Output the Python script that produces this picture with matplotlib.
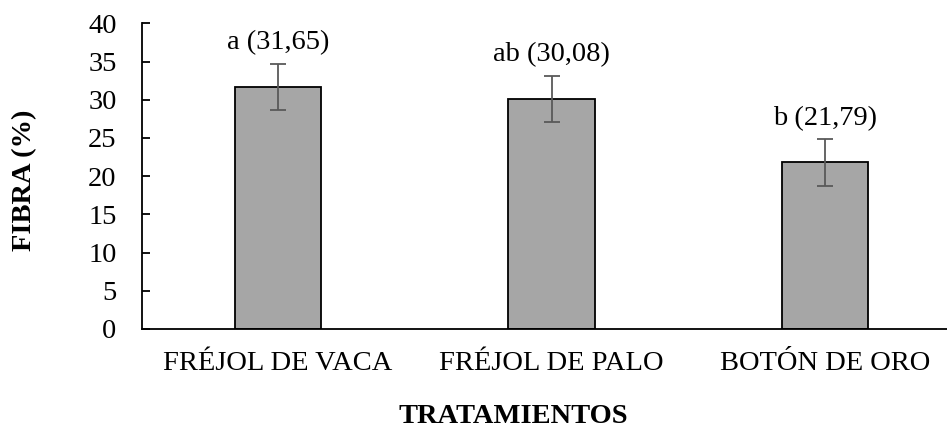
import matplotlib
matplotlib.use("Agg")
import matplotlib.pyplot as plt

categories = ["FRÉJOL DE VACA", "FRÉJOL DE PALO", "BOTÓN DE ORO"]
values = [31.65, 30.08, 21.79]
errors = [3.05, 3.05, 3.05]
letters = ["a", "ab", "b"]

plt.rcParams["font.family"] = ["Liberation Serif", "DejaVu Serif"]
FS = 20.5

fig = plt.figure(figsize=(9.47, 4.30), dpi=100)
ax = fig.add_axes([141.5 / 947, 1 - 329 / 430, 820 / 947, (329 - 23.3) / 430])

x = list(range(len(categories)))
ax.bar(x, values, width=0.315, color="#A6A6A6", edgecolor="black", linewidth=1.3,
       yerr=errors, error_kw=dict(ecolor="#595959", elinewidth=1.3, capsize=5.5, capthick=1.3))

for xi, v, e, l in zip(x, values, errors, letters):
    lab = f"{l} ({v:.2f})".replace(".", ",")
    ax.annotate(lab, (xi, v + e), xytext=(0, 6), textcoords="offset points",
                ha="center", va="bottom", fontsize=FS)

ax.set_xlim(-0.5, 2.5)
ax.set_ylim(0, 40)
ax.set_yticks(range(0, 41, 5))
ax.set_xticks(x)
ax.set_xticklabels(categories)
ax.tick_params(axis="y", direction="in", length=6, width=1.3, labelsize=FS, pad=18)
ax.tick_params(axis="x", length=0, labelsize=FS, pad=16)
for s in ["top", "right"]:
    ax.spines[s].set_visible(False)
ax.spines["left"].set_linewidth(1.3)
ax.spines["bottom"].set_linewidth(1.3)

fig.text(25 / 947, 1 - 180 / 430, "FIBRA (%)", rotation=90, ha="center", va="center",
         fontsize=FS, fontweight="bold")
fig.text(513 / 947, 1 / 430, "TRATAMIENTOS", ha="center", va="bottom",
         fontsize=FS, fontweight="bold")

fig.savefig("out.png", dpi=100)
